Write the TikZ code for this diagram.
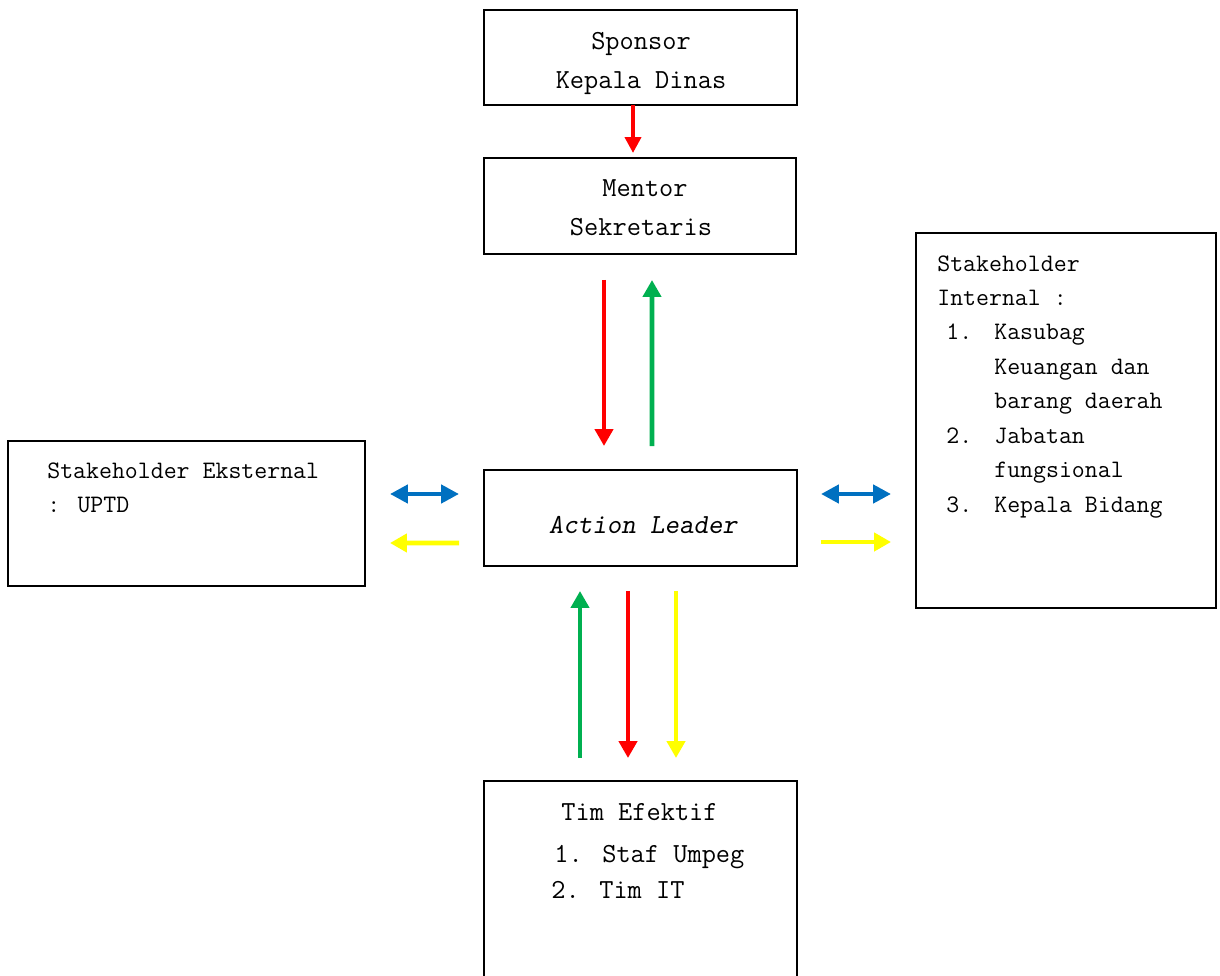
\documentclass[tikz,border=0pt]{standalone}
\usepackage{fontspec}
\usetikzlibrary{calc,arrows.meta}
\definecolor{arrred}{HTML}{FF0000}
\definecolor{arrgreen}{HTML}{00B050}
\definecolor{arrblue}{HTML}{0070C0}
\definecolor{arryellow}{HTML}{FFFF00}
\newcommand{\numitem}[2]{\makebox[0.96cm][l]{#1}#2}
\tikzset{
  box/.style={draw, line width=0.7pt, inner sep=0pt, outer sep=0pt},
  boxtext/.style={inner sep=0pt, align=center, font=\ttfamily\fontsize{15.7}{22.1}\selectfont},
  smalltext/.style={inner sep=0pt, align=left, font=\ttfamily\fontsize{14.3}{19.6}\selectfont},
  bigtext/.style={inner sep=0pt, align=left, font=\ttfamily\fontsize{15.7}{20.4}\selectfont},
  flow/.style={line width=2.8pt, -{Triangle[length=0.34cm,width=0.36cm]}},
  twoway/.style={line width=2.6pt, {Triangle[length=0.36cm,width=0.36cm]}-{Triangle[length=0.36cm,width=0.36cm]}}
}

\begin{document}
\begin{tikzpicture}[x=0.02cm, y=-0.02cm]
		%%%%% START %%%%%
		\clip (0, 0) rectangle (1220, 976);
		
		\node[box, minimum width=6.26cm, minimum height=1.9cm] (sponsor) at (640.5, 57.5) {};
		\node[boxtext] (sponsortext) at (641, 63.5) {Sponsor\\Kepala Dinas};
		\node[box, minimum width=6.24cm, minimum height=1.92cm] (mentor) at (640, 206) {};
		\node[boxtext] (mentortext) at (641, 207.5) {\hspace*{0.16cm}Mentor\\Sekretaris};
		\node[box, minimum width=6.26cm, minimum height=1.92cm] (action) at (640.5, 518) {};
		\node[boxtext, font=\ttfamily\slshape\fontsize{15.7}{22.1}\selectfont] (actiontext) at (643, 525) {Action Leader};
		
		\node[box, minimum width=7.14cm, minimum height=2.9cm] (ekst) at (186.5, 513.5) {};
		\node[smalltext, anchor=north west] (eksttext) at (47, 462) {Stakeholder Eksternal\\: UPTD};
		
		\node[box, minimum width=6cm, minimum height=7.5cm] (internal) at (1066, 420.5) {};
		\node[smalltext, anchor=north west] (internaltext) at (937, 255) {Stakeholder\\Internal :\\
			\hspace*{0.18cm}\numitem{1.}{Kasubag}\\
			\hspace*{1.14cm}Keuangan dan\\
			\hspace*{1.14cm}barang daerah\\
			\hspace*{0.18cm}\numitem{2.}{Jabatan}\\
			\hspace*{1.14cm}fungsional\\
			\hspace*{0.18cm}\numitem{3.}{Kepala Bidang}};
		
		\node[box, minimum width=6.26cm, minimum height=4.2cm] (tim) at (640.5, 886) {};
		\node[bigtext] (timtitle) at (639.5, 812) {Tim Efektif};
		\node[bigtext, anchor=north west] (timlist) at (551, 845) {\hspace*{0.06cm}\numitem{1.}{Staf Umpeg}\\\numitem{2.}{Tim IT}};
		
		% sponsor to mentor
		\draw[flow, line width=2.2pt, -{Triangle[length=0.32cm,width=0.32cm]}, arrred] ($(sponsor.south)+(-7.5,0)$) -- ($(mentor.north)+(-7,-5)$);
		
		% mentor and action leader
		\draw[flow, arrred] ($(mentor.south)+(-36,26)$) -- ($(action.north)+(-36.5,-24)$);
		\draw[flow, arrgreen] ($(action.north)+(11.5,-24)$) -- ($(mentor.south)+(12,26)$);
		
		% external stakeholder
		\draw[twoway, arrblue] ($(ekst.east)+(25,-19.5)$) -- ($(action.west)+(-25,-24)$);
		\draw[flow, arryellow] ($(action.west)+(-25,25)$) -- ($(ekst.east)+(25,29.5)$);
		
		% internal stakeholder
		\draw[twoway, arrblue] ($(action.east)+(24,-24)$) -- ($(internal.west |- action.east)+(-25,-24)$);
		\draw[flow, arryellow] ($(action.east)+(24,24)$) -- ($(internal.west |- action.east)+(-25,24)$);
		
		% effective team
		\draw[flow, arrgreen] ($(tim.north)+(-60.5,-23)$) -- ($(action.south)+(-60.5,25)$);
		\draw[flow, arrred] ($(action.south)+(-12.5,25)$) -- ($(tim.north)+(-12.5,-23)$);
		\draw[flow, arryellow] ($(action.south)+(35.5,25)$) -- ($(tim.north)+(35.5,-23)$);
		
		%%%%% END %%%%%
\end{tikzpicture}
\end{document}
